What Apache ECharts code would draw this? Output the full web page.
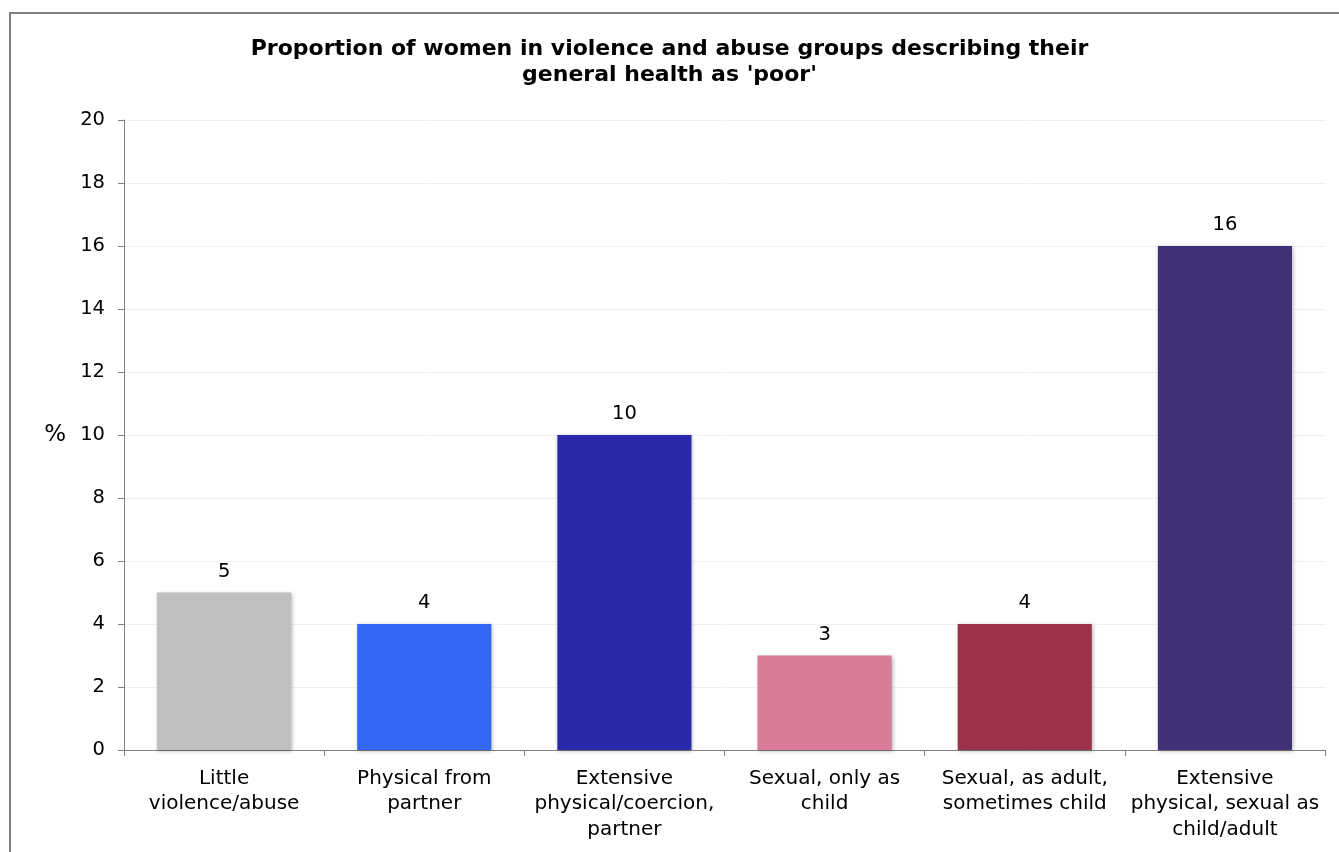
<!DOCTYPE html>
<html><head><meta charset="utf-8">
<script src="https://cdn.jsdelivr.net/npm/echarts@6/dist/echarts.min.js"></script>
<style>html,body{margin:0;padding:0;background:#fff}#c{width:1339px;height:852px}</style>
</head><body><div id="c"></div>
<script>
const categories = ['Little\nviolence/abuse','Physical from\npartner','Extensive\nphysical/coercion,\npartner','Sexual, only as\nchild','Sexual, as adult,\nsometimes child','Extensive\nphysical, sexual as\nchild/adult'];
const values = [5, 4, 10, 3, 4, 16];
const barColors = ['#bfbfbf','#3366f2','#2828a8','#d87c9a','#9c324a','#403176'];
const titleText = "Proportion of women in violence and abuse groups describing their\ngeneral health as 'poor'";
const yTicks = {min:0, max:20, interval:2};

const chart = echarts.init(document.getElementById('c'), null, {renderer:'canvas'});
const font = 'DejaVu Sans, sans-serif';
chart.setOption({
  animation:false,
  backgroundColor:'#fff',
  title:{text:titleText,left:'center',top:31,textStyle:{fontFamily:font,fontWeight:'bold',fontSize:22,lineHeight:26,color:'#000'}},
  graphic:[{type:'rect',shape:{x:10,y:13,width:1400,height:900},style:{fill:'none',stroke:'#808080',lineWidth:2},silent:true}],
  grid:{left:124,right:14,top:120,bottom:102,containLabel:false},
  xAxis:{type:'category',data:categories,
    axisLine:{lineStyle:{color:'#808080',width:1}},
    axisTick:{show:true,interval:0,length:6,lineStyle:{color:'#808080'}},
    axisLabel:{interval:0,fontFamily:font,fontSize:20,lineHeight:25.5,color:'#000',margin:16}},
  yAxis:{type:'value',min:yTicks.min,max:yTicks.max,interval:yTicks.interval,
    name:'%',nameLocation:'middle',nameRotate:0,nameGap:58,nameTextStyle:{fontFamily:font,fontSize:23,color:'#000',padding:[6,0,0,0]},
    axisLine:{show:true,lineStyle:{color:'#808080'}},
    axisTick:{show:true,length:6,lineStyle:{color:'#808080'}},
    axisLabel:{fontFamily:font,fontSize:19.5,color:'#000',margin:19},
    splitLine:{show:true,lineStyle:{color:'#f0f0f0'}}},
  series:[{type:'bar',barCategoryGap:'33%',
    data:values.map((v,i)=>({value:v,itemStyle:{color:barColors[i]}})),
    itemStyle:{shadowBlur:4,shadowColor:'rgba(0,0,0,0.3)',shadowOffsetX:1,shadowOffsetY:1},
    label:{show:true,position:'top',distance:11,fontFamily:font,fontSize:19.5,color:'#000'}}]
});
</script></body></html>
